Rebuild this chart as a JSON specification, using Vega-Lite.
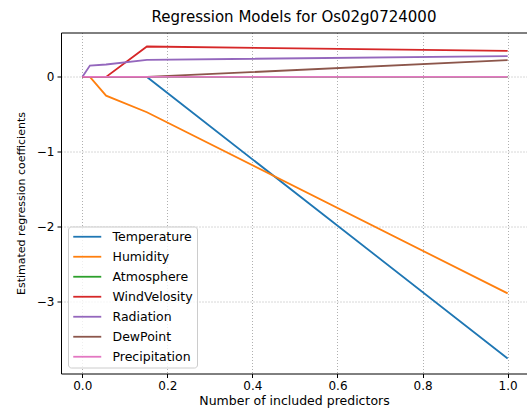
{
  "$schema": "https://vega.github.io/schema/vega-lite/v6.json",
  "autosize": {"type": "none"},
  "width": 466,
  "height": 341,
  "padding": {"left": 61, "top": 32.5, "right": 0, "bottom": 38.5},
  "background": "white",
  "config": {
    "font": "DejaVu Sans",
    "view": {"stroke": null},
    "axis": {
      "labelFont": "DejaVu Sans",
      "titleFont": "DejaVu Sans",
      "labelFontSize": 12,
      "titleFontSize": 12.5,
      "labelColor": "#000",
      "titleColor": "#000",
      "titleFontWeight": "normal",
      "domainColor": "#000",
      "domainWidth": 1,
      "tickColor": "#000",
      "tickSize": 4,
      "tickWidth": 1,
      "gridColor": "#b0b0b0",
      "gridDash": [1, 2],
      "gridWidth": 1
    }
  },
  "title": {
    "text": "Regression Models for Os02g0724000",
    "font": "DejaVu Sans",
    "fontSize": 15,
    "fontWeight": "normal",
    "color": "#000",
    "anchor": "middle",
    "offset": 8
  },
  "data": {
    "values": [
      {"series": "Temperature", "x": 0, "y": 0},
      {"series": "Temperature", "x": 0.018, "y": 0},
      {"series": "Temperature", "x": 0.056, "y": 0},
      {"series": "Temperature", "x": 0.152, "y": 0},
      {"series": "Temperature", "x": 1.0, "y": -3.754},
      {"series": "Humidity", "x": 0, "y": 0},
      {"series": "Humidity", "x": 0.018, "y": 0},
      {"series": "Humidity", "x": 0.056, "y": -0.25},
      {"series": "Humidity", "x": 0.152, "y": -0.47},
      {"series": "Humidity", "x": 1.0, "y": -2.887},
      {"series": "Atmosphere", "x": 0, "y": 0},
      {"series": "Atmosphere", "x": 0.018, "y": 0},
      {"series": "Atmosphere", "x": 0.056, "y": 0},
      {"series": "Atmosphere", "x": 0.152, "y": 0},
      {"series": "Atmosphere", "x": 1.0, "y": 0},
      {"series": "WindVelosity", "x": 0, "y": 0},
      {"series": "WindVelosity", "x": 0.018, "y": 0},
      {"series": "WindVelosity", "x": 0.056, "y": 0},
      {"series": "WindVelosity", "x": 0.152, "y": 0.406},
      {"series": "WindVelosity", "x": 1.0, "y": 0.348},
      {"series": "Radiation", "x": 0, "y": 0},
      {"series": "Radiation", "x": 0.018, "y": 0.152},
      {"series": "Radiation", "x": 0.056, "y": 0.166},
      {"series": "Radiation", "x": 0.152, "y": 0.228},
      {"series": "Radiation", "x": 1.0, "y": 0.278},
      {"series": "DewPoint", "x": 0, "y": 0},
      {"series": "DewPoint", "x": 0.018, "y": 0},
      {"series": "DewPoint", "x": 0.056, "y": 0},
      {"series": "DewPoint", "x": 0.152, "y": 0},
      {"series": "DewPoint", "x": 1.0, "y": 0.224},
      {"series": "Precipitation", "x": 0, "y": 0},
      {"series": "Precipitation", "x": 0.018, "y": 0},
      {"series": "Precipitation", "x": 0.056, "y": 0},
      {"series": "Precipitation", "x": 0.152, "y": 0},
      {"series": "Precipitation", "x": 1.0, "y": 0}
    ]
  },
  "layer": [
    {
      "mark": {"type": "line", "strokeWidth": 1.8, "clip": true},
      "encoding": {
        "x": {
          "field": "x",
          "type": "quantitative",
          "scale": {"domain": [-0.05, 1.0455], "nice": false, "zero": false},
          "axis": {
            "values": [0, 0.2, 0.4, 0.6, 0.8, 1.0],
            "format": ".1f",
            "title": "Number of included predictors",
            "titlePadding": 3,
            "labelPadding": 3,
            "grid": true
          }
        },
        "y": {
          "field": "y",
          "type": "quantitative",
          "scale": {"domain": [-3.955, 0.593], "nice": false, "zero": false},
          "axis": {
            "values": [-3, -2, -1, 0],
            "format": "d",
            "title": "Estimated regression coefficients",
            "titleFontSize": 11,
            "titlePadding": 10,
            "labelPadding": 3,
            "grid": true
          }
        },
        "color": {
          "field": "series",
          "type": "nominal",
          "sort": ["Temperature", "Humidity", "Atmosphere", "WindVelosity", "Radiation", "DewPoint", "Precipitation"],
          "scale": {
            "domain": ["Temperature", "Humidity", "Atmosphere", "WindVelosity", "Radiation", "DewPoint", "Precipitation"],
            "range": ["#1f77b4", "#ff7f0e", "#2ca02c", "#d62728", "#9467bd", "#8c564b", "#e377c2"]
          },
          "legend": {
            "title": null,
            "orient": "none",
            "legendX": 7,
            "legendY": 194,
            "symbolType": "M-1,0H4.6",
            "symbolSize": 100,
            "symbolStrokeWidth": 1.8,
            "labelFont": "DejaVu Sans",
            "labelFontSize": 12.5,
            "labelColor": "#000",
            "labelOffset": 28,
            "rowPadding": 7,
            "padding": 4,
            "strokeColor": "#cccccc",
            "fillColor": "rgba(255,255,255,0.8)",
            "cornerRadius": 3
          }
        }
      }
    },
    {
      "mark": {"type": "line", "opacity": 0},
      "encoding": {
        "x": {
          "field": "x",
          "type": "quantitative",
          "scale": {"domain": [-0.05, 1.0455], "nice": false, "zero": false},
          "axis": {"orient": "top", "labels": false, "ticks": false, "grid": false, "title": null, "domain": true}
        },
        "y": {"field": "y", "type": "quantitative"}
      }
    }
  ],
  "resolve": {"axis": {"x": "independent"}}
}
